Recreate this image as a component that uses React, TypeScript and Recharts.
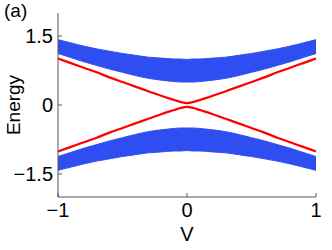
import React from 'react';
import { ComposedChart, Area, Line, XAxis, YAxis } from 'recharts';

// gate voltage samples
const volts = [-1, -0.9, -0.8, -0.7, -0.6, -0.5, -0.4, -0.3, -0.2, -0.1, -0.05, 0, 0.05, 0.1, 0.2, 0.3, 0.4, 0.5, 0.6, 0.7, 0.8, 0.9, 1];

// bulk bands (blue)
const upperBandLow = [1.12, 1.03, 0.94, 0.86, 0.78, 0.71, 0.64, 0.58, 0.54, 0.51, 0.5, 0.5, 0.5, 0.51, 0.54, 0.58, 0.64, 0.71, 0.78, 0.86, 0.94, 1.03, 1.12];
const upperBandHigh = [1.42, 1.35, 1.28, 1.22, 1.17, 1.12, 1.08, 1.04, 1.02, 1.0, 1.0, 0.99, 1.0, 1.0, 1.02, 1.04, 1.08, 1.12, 1.17, 1.22, 1.28, 1.35, 1.42];
const lowerBandHigh = [-1.12, -1.03, -0.94, -0.86, -0.78, -0.71, -0.64, -0.58, -0.54, -0.51, -0.5, -0.5, -0.5, -0.51, -0.54, -0.58, -0.64, -0.71, -0.78, -0.86, -0.94, -1.03, -1.12];
const lowerBandLow = [-1.42, -1.35, -1.28, -1.22, -1.17, -1.12, -1.08, -1.04, -1.02, -1.0, -1.0, -0.99, -1.0, -1.0, -1.02, -1.04, -1.08, -1.12, -1.17, -1.22, -1.28, -1.35, -1.42];

// edge states (red)
const edgeUpper = [1.01, 0.91, 0.81, 0.71, 0.6, 0.5, 0.4, 0.3, 0.2, 0.11, 0.065, 0.04, 0.065, 0.11, 0.2, 0.3, 0.4, 0.5, 0.6, 0.71, 0.81, 0.91, 1.01];
const edgeLower = [-1.01, -0.91, -0.81, -0.71, -0.6, -0.5, -0.4, -0.3, -0.2, -0.11, -0.065, -0.04, -0.065, -0.11, -0.2, -0.3, -0.4, -0.5, -0.6, -0.71, -0.81, -0.91, -1.01];

const xTicks = [-1, 0, 1];
const yTicks = [-1.5, 0, 1.5];

const data = volts.map((v, i) => ({
  v,
  upper: [upperBandLow[i], upperBandHigh[i]],
  lower: [lowerBandLow[i], lowerBandHigh[i]],
  eUp: edgeUpper[i],
  eDown: edgeLower[i],
}));

const FONT = '"Liberation Sans", Arial, Helvetica, sans-serif';
const AXIS = '#555';
const BLUE = '#2f4ef2';
const FS = 20;

const fmt = (n: number) => (n < 0 ? '\u2212' + Math.abs(n) : String(n));

export default function App() {
  return (
    <div style={{ position: 'absolute', left: 0, top: 0, width: 332, height: 250, background: '#fff', fontFamily: FONT }}>
      <div style={{ position: 'absolute', left: 4, top: -1, fontSize: 19, lineHeight: '24px', color: '#000' }}>(a)</div>
      <ComposedChart width={332} height={250} data={data} margin={{ top: 13, right: 16, bottom: 0, left: 0 }}>
        <XAxis
          type="number"
          dataKey="v"
          domain={[-1, 1]}
          ticks={xTicks}
          tickFormatter={fmt}
          height={53}
          stroke={AXIS}
          tickSize={-4}
          tickMargin={10}
          tick={{ fill: '#000', fontSize: FS, fontFamily: FONT }}
          label={{ value: 'V', position: 'insideBottom', offset: 9, fill: '#000', fontSize: FS, fontFamily: FONT }}
        />
        <XAxis
          xAxisId="top"
          orientation="top"
          type="number"
          dataKey="v"
          domain={[-1, 1]}
          ticks={xTicks}
          tickFormatter={() => ''}
          height={0}
          stroke={AXIS}
          tickSize={-4}
        />
        <YAxis
          type="number"
          domain={[-2, 2]}
          ticks={yTicks}
          tickFormatter={fmt}
          width={58}
          stroke={AXIS}
          tickSize={-4}
          tickMargin={9}
          tick={{ fill: '#000', fontSize: FS, fontFamily: FONT }}
          label={({ viewBox }: any) => (
            <text
              x={viewBox.x + 13}
              y={viewBox.y + viewBox.height / 2}
              transform={`rotate(-90, ${viewBox.x + 13}, ${viewBox.y + viewBox.height / 2})`}
              textAnchor="middle"
              dominantBaseline="central"
              fill="#000"
              fontSize={19}
              fontFamily={FONT}
            >
              Energy
            </text>
          )}
        />
        <YAxis
          yAxisId="right"
          orientation="right"
          type="number"
          domain={[-2, 2]}
          ticks={yTicks}
          tickFormatter={() => ''}
          width={0}
          stroke={AXIS}
          tickSize={-4}
        />
        <Area type="monotone" dataKey="upper" stroke={BLUE} strokeWidth={1} fill={BLUE} fillOpacity={1} isAnimationActive={false} />
        <Area type="monotone" dataKey="lower" stroke={BLUE} strokeWidth={1} fill={BLUE} fillOpacity={1} isAnimationActive={false} />
        <Line type="monotone" dataKey="eUp" stroke="#ff0000" strokeWidth={2.2} dot={false} isAnimationActive={false} />
        <Line type="monotone" dataKey="eDown" stroke="#ff0000" strokeWidth={2.2} dot={false} isAnimationActive={false} />
      </ComposedChart>
    </div>
  );
}
